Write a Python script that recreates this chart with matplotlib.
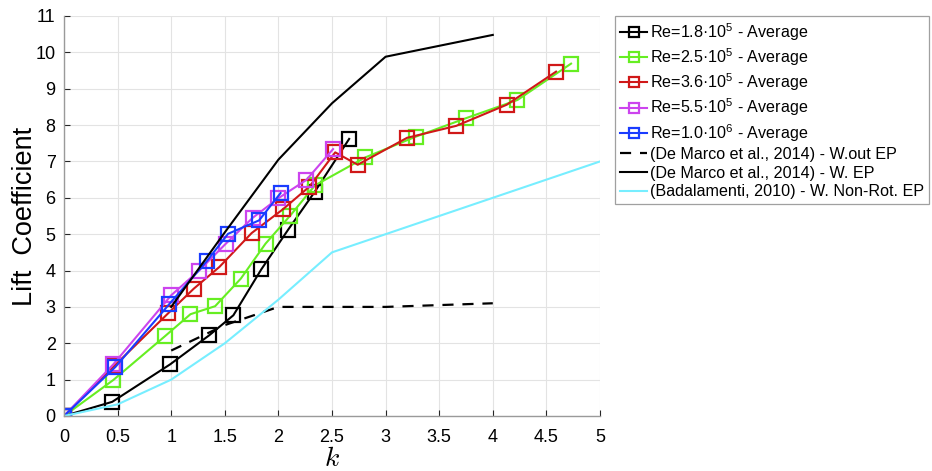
import matplotlib
matplotlib.use("Agg")
import matplotlib.pyplot as plt
import numpy as np

plt.rcParams['font.family'] = ['Liberation Sans', 'DejaVu Sans']
plt.rcParams['mathtext.fontset'] = 'custom'
plt.rcParams['mathtext.rm'] = 'Liberation Sans'
plt.rcParams['mathtext.it'] = 'Liberation Sans:italic'

# ---- data ----
k_18 = [0, 0.45, 0.99, 1.355, 1.58, 1.84, 2.09, 2.34, 2.66]
cl_18 = [0, 0.39, 1.42, 2.22, 2.77, 4.03, 5.12, 6.17, 7.62]

k_25 = [0, 0.46, 0.94, 1.18, 1.41, 1.65, 1.88, 2.11, 2.34, 2.81, 3.28, 3.75, 4.23, 4.73]
cl_25 = [0, 0.99, 2.19, 2.80, 3.02, 3.78, 4.74, 5.51, 6.34, 7.11, 7.68, 8.19, 8.69, 9.69]

k_36 = [0, 0.47, 0.97, 1.21, 1.45, 1.75, 2.04, 2.29, 2.53, 2.74, 3.20, 3.66, 4.13, 4.59]
cl_36 = [0, 1.38, 2.82, 3.50, 4.10, 5.03, 5.68, 6.31, 7.25, 6.91, 7.65, 7.98, 8.56, 9.47]

k_55 = [0, 0.46, 1.0, 1.26, 1.51, 1.76, 2.0, 2.26, 2.51]
cl_55 = [0, 1.42, 3.32, 4.0, 4.74, 5.45, 5.99, 6.49, 7.34]

k_100 = [0, 0.48, 0.98, 1.33, 1.53, 1.82, 2.02]
cl_100 = [0, 1.35, 3.07, 4.25, 5.01, 5.38, 6.13]

k_dm_wo = [1.0, 1.5, 2.0, 3.0, 4.0]
cl_dm_wo = [1.8, 2.5, 3.0, 3.0, 3.1]

k_dm_w = [1.0, 1.5, 2.0, 2.5, 3.0, 4.0]
cl_dm_w = [3.0, 5.05, 7.05, 8.6, 9.88, 10.48]

k_bad = [0, 0.5, 1.0, 1.5, 2.0, 2.5, 3.0, 4.0, 5.0]
cl_bad = [0, 0.32, 1.0, 2.0, 3.2, 4.5, 5.0, 6.0, 7.0]

labels = ['Re=1.8·10$^{5}$ - Average',
          'Re=2.5·10$^{5}$ - Average',
          'Re=3.6·10$^{5}$ - Average',
          'Re=5.5·10$^{5}$ - Average',
          'Re=1.0·10$^{6}$ - Average',
          '(De Marco et al., 2014) - W.out EP',
          '(De Marco et al., 2014) - W. EP',
          '(Badalamenti, 2010) - W. Non-Rot. EP']

x_ticks = [0, 0.5, 1, 1.5, 2, 2.5, 3, 3.5, 4, 4.5, 5]
y_ticks = list(range(0, 12))

colors = ['#000000', '#66ee22', '#d01818', '#cc44ee', '#1a3cff']

fig = plt.figure(figsize=(9.32, 4.71), dpi=100)
ax = fig.add_axes([64/932, 1 - 416/471, (600 - 64)/932, (416 - 16)/471])

series = [(k_18, cl_18), (k_25, cl_25), (k_36, cl_36), (k_55, cl_55), (k_100, cl_100)]
handles = []
for (kx, cy), c, lab in zip(series, colors, labels[:5]):
    h, = ax.plot(kx, cy, '-s', color=c, lw=1.5, ms=10, mfc='none', mew=1.6, label=lab)
    handles.append(h)

h, = ax.plot(k_dm_wo, cl_dm_wo, '--', color='black', lw=1.6, dashes=(5, 4), label=labels[5])
handles.append(h)
h, = ax.plot(k_dm_w, cl_dm_w, '-', color='black', lw=1.5, label=labels[6])
handles.append(h)
h, = ax.plot(k_bad, cl_bad, '-', color='#77eeff', lw=1.5, label=labels[7])
handles.append(h)

ax.set_xlim(0, 5)
ax.set_ylim(0, 11)
ax.set_xticks(x_ticks)
ax.set_xticklabels(['%g' % v for v in x_ticks])
ax.set_yticks(y_ticks)
ax.set_yticklabels(['%g' % v for v in y_ticks])
ax.tick_params(direction='in', length=4, width=0.8, labelsize=13, colors='#262626',
               labelcolor='black')
ax.tick_params(axis='x', pad=9)
ax.tick_params(axis='y', pad=6)
ax.grid(True, color='#e3e3e3', lw=0.8)
ax.set_axisbelow(True)
for s in ['top', 'right']:
    ax.spines[s].set_visible(False)
for s in ['left', 'bottom']:
    ax.spines[s].set_color('#9a9a9a')
    ax.spines[s].set_linewidth(1.0)

ax.set_ylabel('Lift  Coefficient', fontsize=19.5, labelpad=-2)
ax.set_xlabel('$k$', fontsize=20, math_fontfamily='cm', labelpad=0)

leg = fig.legend(handles=handles, labels=labels, loc='upper left',
                 bbox_to_anchor=(615/932, 1 - 16/471), fontsize=11.6,
                 frameon=True, fancybox=False, edgecolor='#888888',
                 handlelength=1.7, handletextpad=0.2, labelspacing=0.22,
                 borderaxespad=0, borderpad=0.3, markerscale=0.65)
leg.get_frame().set_linewidth(0.9)

fig.savefig('out.png', dpi=100)
